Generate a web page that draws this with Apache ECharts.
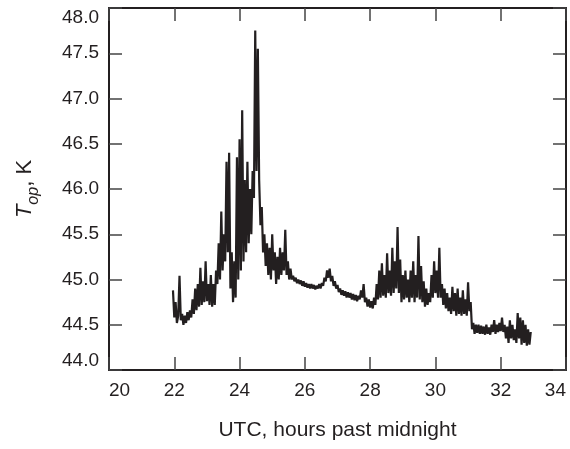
<!DOCTYPE html>
<html>
<head>
<meta charset="utf-8">
<script src="https://cdn.jsdelivr.net/npm/echarts@6/dist/echarts.min.js"></script>
<style>
html,body{margin:0;padding:0;background:#fff;}
#chart{width:570px;height:449px;}
</style>
</head>
<body>
<div id="chart"></div>
<script>
// Sample times: first sample hour and sampling step (hours)
const startHour = 21.96;
const stepHour = 0.04;
// Operating temperature, K
const tempK = [
  44.88,44.58,44.75,44.52,44.6,45.04,44.55,44.62,44.5,44.6,
  44.52,44.64,44.55,44.66,44.58,44.78,44.62,44.9,44.66,44.95,
  44.7,45.13,44.72,44.98,44.75,45.2,44.76,44.95,44.72,45.05,
  44.7,44.95,44.72,45.1,44.95,45.4,45.0,45.75,45.1,45.5,
  45.2,46.3,45.3,46.4,44.9,45.3,44.75,45.2,44.8,46.35,
  45.0,46.55,45.1,46.87,45.2,46.1,45.3,46.3,45.4,46.0,
  45.5,46.2,45.9,47.75,46.2,47.55,46.1,45.6,45.8,45.3,
  45.5,45.15,45.4,45.05,45.35,45.0,45.5,45.1,45.3,44.95,
  45.25,45.0,45.35,45.05,45.3,45.1,45.55,45.05,45.2,45.0,
  45.12,45.0,45.04,44.98,45.02,44.96,45.0,44.95,44.99,44.93,
  44.98,44.92,44.96,44.91,44.95,44.9,44.95,44.9,44.94,44.89,
  44.93,44.9,44.95,44.9,44.96,44.93,45.02,44.98,45.1,45.02,
  45.12,44.98,45.04,44.93,44.98,44.9,44.94,44.86,44.9,44.83,
  44.88,44.82,44.87,44.8,44.86,44.8,44.85,44.78,44.84,44.77,
  44.83,44.76,44.82,44.78,44.88,44.8,44.95,44.75,44.8,44.7,
  44.78,44.69,44.76,44.68,44.8,44.72,44.95,44.78,45.1,44.8,
  45.18,44.82,45.05,44.8,45.29,44.85,45.1,44.82,45.35,44.85,
  45.2,44.9,45.58,44.85,45.22,44.75,45.05,44.78,45.1,44.8,
  45.0,44.75,45.1,44.8,45.2,44.75,45.05,44.8,45.48,44.78,
  45.15,44.75,44.98,44.7,44.9,44.72,44.85,44.75,45.05,44.8,
  45.2,44.85,45.1,44.8,45.35,44.8,44.95,44.72,44.9,44.68,
  44.85,44.65,44.8,44.62,44.92,44.65,44.85,44.6,44.9,44.62,
  44.8,44.6,44.88,44.62,44.78,44.6,44.97,44.65,44.75,44.45,
  44.52,44.4,44.5,44.41,44.5,44.4,44.49,44.4,44.48,44.39,
  44.5,44.4,44.47,44.39,44.5,44.42,44.55,44.4,44.5,44.42,
  44.52,44.43,44.58,44.42,44.5,44.35,44.48,44.3,44.55,44.35,
  44.5,44.33,44.45,44.3,44.63,44.35,44.58,44.28,44.55,44.3,
  44.5,44.27,44.45,44.28,44.42
];
const xTicks = [20,22,24,26,28,30,32,34];
const yTicks = [44.0,44.5,45.0,45.5,46.0,46.5,47.0,47.5,48.0];

const seriesData = tempK.map((v, i) => [+(startHour + i * stepHour).toFixed(2), v]);

const FONT = '"Liberation Sans", Arial, Helvetica, sans-serif';
const INK = '#231f20';

const chart = echarts.init(document.getElementById('chart'), null, {renderer: 'canvas'});

const xMin = xTicks[0], xMax = xTicks[xTicks.length - 1];
const yMin = yTicks[0], yMax = yTicks[yTicks.length - 1];

chart.setOption({
  animation: false,
  backgroundColor: '#fff',
  grid: {left: 109, right: 4, top: 8, bottom: 79, containLabel: false, outerBoundsMode: 'none'},
  xAxis: [
    {
      type: 'value', min: xMin, max: xMax, interval: 2, position: 'bottom',
      name: 'UTC, hours past midnight', nameLocation: 'middle', nameGap: 50,
      nameTextStyle: {fontFamily: FONT, fontSize: 21, color: INK},
      axisLine: {show: true, lineStyle: {color: INK, width: 2}},
      axisTick: {show: true, inside: true, length: 13, lineStyle: {color: '#444', width: 1.5}},
      axisLabel: {fontFamily: FONT, fontSize: 19, color: INK, margin: 11,
        alignMinLabel: 'left', alignMaxLabel: 'right'},
      splitLine: {show: false}
    },
    {
      type: 'value', min: xMin, max: xMax, interval: 2, position: 'top',
      axisLine: {show: true, lineStyle: {color: INK, width: 2}},
      axisTick: {show: true, inside: true, length: 13, lineStyle: {color: '#444', width: 1.5}},
      axisLabel: {show: false},
      splitLine: {show: false}
    }
  ],
  yAxis: [
    {
      type: 'value', min: yMin, max: yMax, interval: 0.5, position: 'left',
      name: '{t|T}{s|op}{n|, K}', nameLocation: 'middle', nameGap: 70, nameRotate: 90,
      nameTextStyle: {
        fontFamily: FONT, color: INK,
        rich: {
          t: {fontFamily: FONT, fontSize: 22, fontStyle: 'italic', color: INK, lineHeight: 22, padding: [0, 0, 6, 0]},
          s: {fontFamily: FONT, fontSize: 16, fontStyle: 'italic', color: INK, lineHeight: 16, padding: [12, 0, 0, 0]},
          n: {fontFamily: FONT, fontSize: 22, color: INK, lineHeight: 22, padding: [0, 0, 6, 0]}
        }
      },
      axisLine: {show: true, lineStyle: {color: INK, width: 2}},
      axisTick: {show: true, inside: true, length: 13, lineStyle: {color: '#444', width: 1.5}},
      axisLabel: {fontFamily: FONT, fontSize: 19, color: INK, margin: 10,
        formatter: v => v.toFixed(1),
        verticalAlignMinLabel: 'bottom', verticalAlignMaxLabel: 'top'},
      splitLine: {show: false}
    },
    {
      type: 'value', min: yMin, max: yMax, interval: 0.5, position: 'right',
      axisLine: {show: true, lineStyle: {color: INK, width: 2}},
      axisTick: {show: true, inside: true, length: 13, lineStyle: {color: '#444', width: 1.5}},
      axisLabel: {show: false},
      splitLine: {show: false}
    }
  ],
  series: [{
    type: 'line',
    xAxisIndex: 0, yAxisIndex: 0,
    data: seriesData,
    showSymbol: false,
    symbol: 'none',
    lineStyle: {color: INK, width: 2.2},
    silent: true
  }]
});
</script>
</body>
</html>
